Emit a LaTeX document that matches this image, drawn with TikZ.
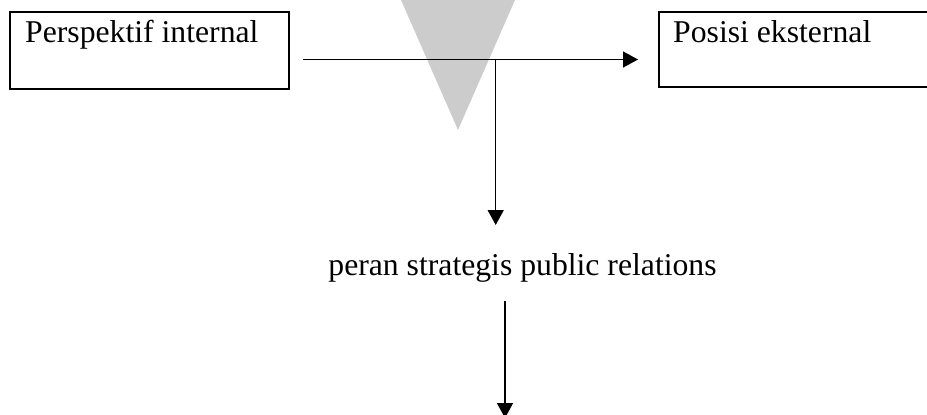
\documentclass[tikz,border=0pt]{standalone}
\usepackage{fontspec}
\setmainfont{Liberation Serif}
\usetikzlibrary{arrows.meta,calc}
\definecolor{wmgray}{HTML}{CCCCCC}
\begin{document}
\begin{tikzpicture}[x=1pt,y=-1pt,
  boxnode/.style={draw,line width=1.5pt,rectangle,inner sep=0pt},
  txt/.style={font=\fontsize{31.7}{38}\selectfont,inner sep=0pt},
  arr/.style={line width=1.5pt,-{Triangle[width=16pt,length=15pt]}},
  ln/.style={line width=1.5pt}]
\useasboundingbox (0,0) rectangle (927,415);
% watermark triangle
\fill[wmgray] (401,0) -- (515,0) -- (458,130) -- cycle;
% boxes
\node[boxnode,minimum width=279pt,minimum height=77pt] (b1) at (149.5,50.5) {};
\node[boxnode,minimum width=281pt,minimum height=75pt] (b2) at (799.5,49.5) {};
\node[txt,anchor=base west] (t1) at (25,42) {Perspektif internal};
\node[txt,anchor=base west] (t2) at (673,42) {Posisi eksternal};
% label
\node[txt,anchor=base] (lbl) at (522.5,275) {peran strategis public relations};
% connectors
\coordinate (j) at (495.7,59.5);
\coordinate (hs) at (303,59.5);
\coordinate (he) at (638,59.5);
\coordinate (ve) at (495.7,225);
\coordinate (bs) at (505,301);
\coordinate (be) at (505,418);
\draw[ln] (hs) -- (j);
\draw[arr] (j) -- (he);
\draw[arr] (j) -- (ve);
\draw[arr] (bs) -- (be);
\end{tikzpicture}
\end{document}
